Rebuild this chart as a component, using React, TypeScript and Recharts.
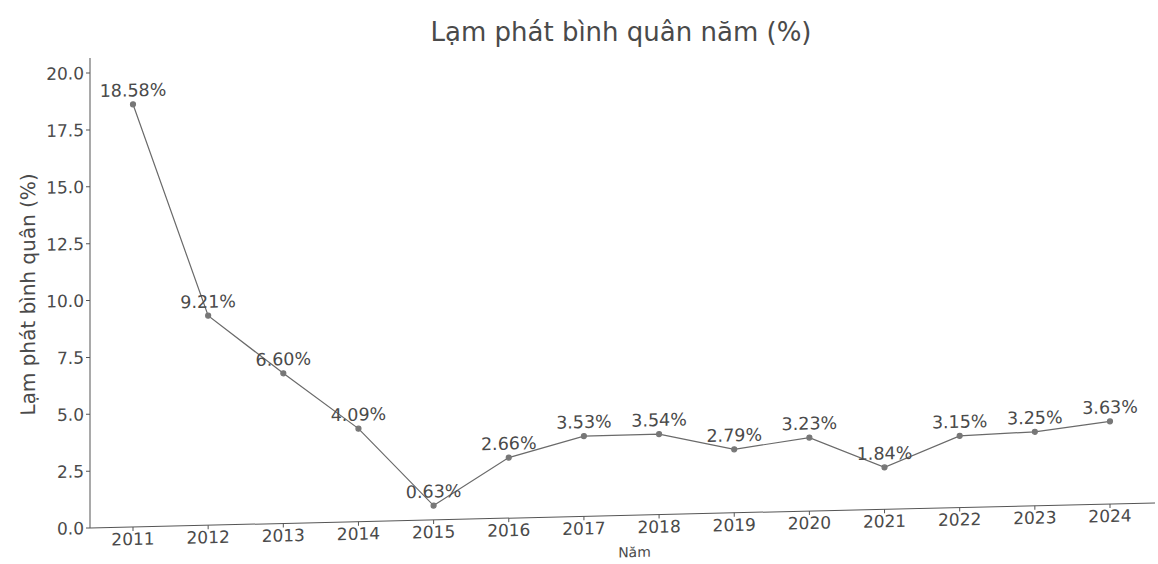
import React from "react";
import { LineChart, Line, XAxis, YAxis, LabelList, Label } from "recharts";

const years = ["2011", "2012", "2013", "2014", "2015", "2016", "2017", "2018", "2019", "2020", "2021", "2022", "2023", "2024"];
const inflation = [18.58, 9.21, 6.6, 4.09, 0.63, 2.66, 3.53, 3.54, 2.79, 3.23, 1.84, 3.15, 3.25, 3.63];
const yTicks = [0, 2.5, 5, 7.5, 10, 12.5, 15, 17.5, 20];

const data = years.map((y, i) => ({ year: y, value: inflation[i] }));

const FONT = "'DejaVu Sans', sans-serif";
const TEXT = "#4a4a4a";

export default function App() {
  return (
    <div style={{ position: "absolute", left: 0, top: 0, width: 1158, height: 564, overflow: "hidden", background: "#fff", fontFamily: FONT }}>
      <div style={{ position: "absolute", left: 0, top: 17, width: 1242, textAlign: "center", fontSize: 26, color: TEXT, whiteSpace: "nowrap" }}>
        Lạm phát bình quân năm (%)
      </div>
      <div style={{ position: "absolute", left: 0, top: 0, transform: "skewY(-1.35deg)", transformOrigin: "90px 528px" }}>
        <LineChart width={1158} height={590} data={data} margin={{ top: 58, right: 3, bottom: 12, left: 0 }}>
          <XAxis
            dataKey="year"
            height={50}
            padding={{ left: 43, right: 45 }}
            stroke="#555"
            tick={{ fill: TEXT, fontSize: 17, fontFamily: FONT }}
            tickSize={4}
            tickLine={{ stroke: "#555" }}
          >
            <Label value="Năm" position="insideBottom" offset={8} dx={12} style={{ fill: TEXT, fontSize: 14, fontFamily: FONT }} />
          </XAxis>
          <YAxis
            width={90}
            domain={[0, 20.66]}
            ticks={yTicks}
            tickFormatter={(v: number) => v.toFixed(1)}
            stroke="#555"
            tick={{ fill: TEXT, fontSize: 17, fontFamily: FONT }}
            tickSize={4}
            allowDataOverflow
          >
            <Label value="Lạm phát bình quân (%)" angle={-90} position="insideLeft" offset={28} style={{ textAnchor: "middle", fill: TEXT, fontSize: 20, fontFamily: FONT }} />
          </YAxis>
          <Line
            type="linear"
            dataKey="value"
            stroke="#6a6a6a"
            strokeWidth={1.2}
            dot={{ r: 2.5, fill: "#777", stroke: "#777" }}
            isAnimationActive={false}
          >
            <LabelList
              dataKey="value"
              position="top"
              offset={8}
              formatter={(v: number) => v.toFixed(2) + "%"}
              style={{ fill: TEXT, fontSize: 17.5, fontFamily: FONT }}
            />
          </Line>
        </LineChart>
      </div>
    </div>
  );
}
